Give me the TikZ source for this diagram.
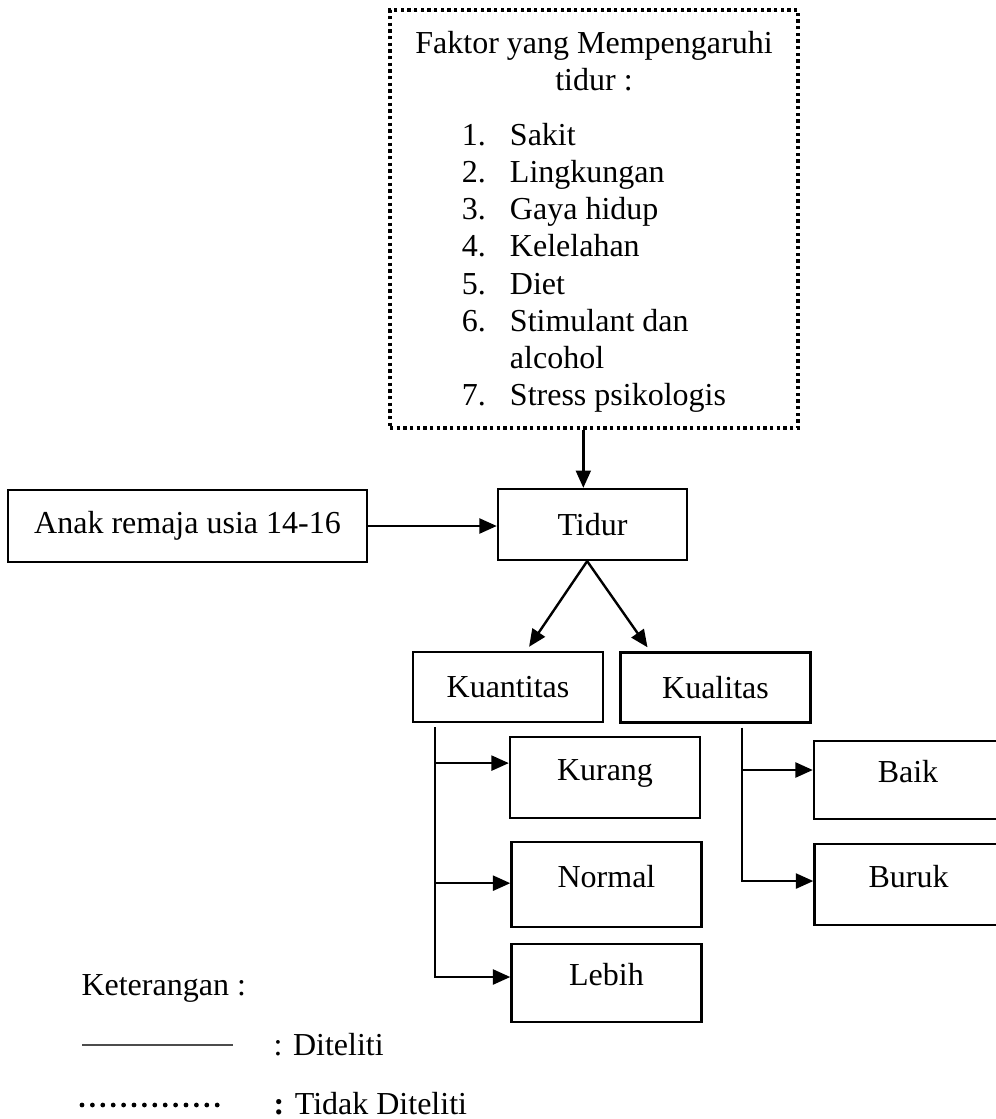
\documentclass[tikz,border=0pt]{standalone}
\usepackage{fontspec}
\setmainfont{Liberation Serif}
\usetikzlibrary{arrows.meta,calc}
\tikzset{
  kotak/.style={draw, line width=0.9pt, rectangle, inner sep=2pt},
  kotakfaktor/.style={draw, line width=1.4pt, dash pattern=on 1.2pt off 1.3pt,
    align=center, minimum width=153pt, minimum height=156.75pt, inner sep=0pt},
  kotakhasil/.style={kotak, minimum width=71.25pt, text height=8.2pt, text depth=6.2pt},
  panah/.style={line width=0.9pt, -{Triangle[length=6.5pt, width=5.6pt]}},
  teks/.style={anchor=west, inner sep=0pt},
  garisket/.style={line width=0.6pt, black!70},
  titikket/.style={line width=1.8pt, line cap=round, dash pattern=on 0pt off 3.9pt}
}

\begin{document}
\begin{tikzpicture}[x=0.375pt, y=-0.375pt, font=\fontsize{12}{13.9}\selectfont]
    \useasboundingbox (0,0) rectangle (996,1119);
    % ---------------------
    \node[kotakfaktor] (faktor) at (594,219) {\rule{0pt}{12pt}Faktor yang Mempengaruhi\\ tidur :\\[6.75pt]
      \begin{tabular}[t]{@{}l@{\hspace{9pt}}l@{}}
        1. & Sakit\\
        2. & Lingkungan\\
        3. & Gaya hidup\\
        4. & Kelelahan\\
        5. & Diet\\
        6. & Stimulant dan\\
           & alcohol\\
        7. & Stress psikologis
      \end{tabular}};
    \node[kotak, minimum width=134.6pt, minimum height=27pt] (anak) at (187.5,526) {Anak remaja usia 14-16};
    \node[kotak, minimum width=70.9pt, minimum height=26.6pt] (tidur) at (592.5,524.5) {Tidur};
    % ---------------------
    \node[kotak, minimum width=71.25pt, minimum height=26.25pt] (kuantitas) at (508,687) {Kuantitas};
    \node[kotak, minimum width=71.25pt, minimum height=26.25pt] (kualitas) at (715.5,687.5) {Kualitas};
    % ---------------------
    \node[kotakhasil, minimum height=30.4pt] (kurang) at (605,777.5) {Kurang};
    \node[kotakhasil, minimum height=31.9pt] (normal) at (606.5,884.5) {Normal};
    \node[kotakhasil, minimum height=29.25pt] (lebih) at (606.5,983) {Lebih};
    \node[kotakhasil, minimum width=70.5pt, minimum height=29.25pt] (baik) at (908,780) {Baik};
    \node[kotakhasil, minimum width=70.5pt, minimum height=30.4pt] (buruk) at (908.5,884.5) {Buruk};
    % ---------------------
    \draw[panah] ([xshift=-4pt]faktor.south) -- ([xshift=-4pt]faktor.south |- tidur.north);
    \draw[panah] (anak.east) -- (anak.east -| tidur.west);
    \draw[panah] ([xshift=-2pt]tidur.south) -- ([xshift=7.9pt,yshift=1.5pt]kuantitas.north);
    \draw[panah] ([xshift=-2pt]tidur.south) -- ([xshift=-25.5pt,yshift=1.5pt]kualitas.north);
    % ---------------------
    \coordinate (kt) at ([xshift=8.6pt,yshift=-1.5pt]kuantitas.south west);
    \draw[panah] (kt) |- ([yshift=2.25pt]lebih.west);
    \draw[panah] ([yshift=5.4pt]kurang.west -| kt) -- ([yshift=5.4pt]kurang.west);
    \draw[panah] ([yshift=0.5pt]normal.west -| kt) -- ([yshift=0.5pt]normal.west);
    % ---------------------
    \coordinate (kl) at ([xshift=46.1pt,yshift=-1.5pt]kualitas.south west);
    \draw[panah] (kl) |- ([yshift=1.3pt]buruk.west);
    \draw[panah] ([yshift=3.75pt]baik.west -| kl) -- ([yshift=3.75pt]baik.west);
    % ---------------------
    \node[teks] (ket) at (81,988) {Keterangan :};
    \coordinate (garisA) at (82,1045);
    \coordinate (garisB) at (233,1045);
    \draw[garisket] (garisA) -- (garisB);
    \node[teks] (diteliti) at (273,1045) {: Diteliti};
    \coordinate (titikA) at (82,1105);
    \coordinate (titikB) at (225,1105);
    \draw[titikket] (titikA) -- (titikB);
    \node[teks] (tidakditeliti) at (273,1104) {{\bfseries :} Tidak Diteliti};
\end{tikzpicture}
\end{document}
